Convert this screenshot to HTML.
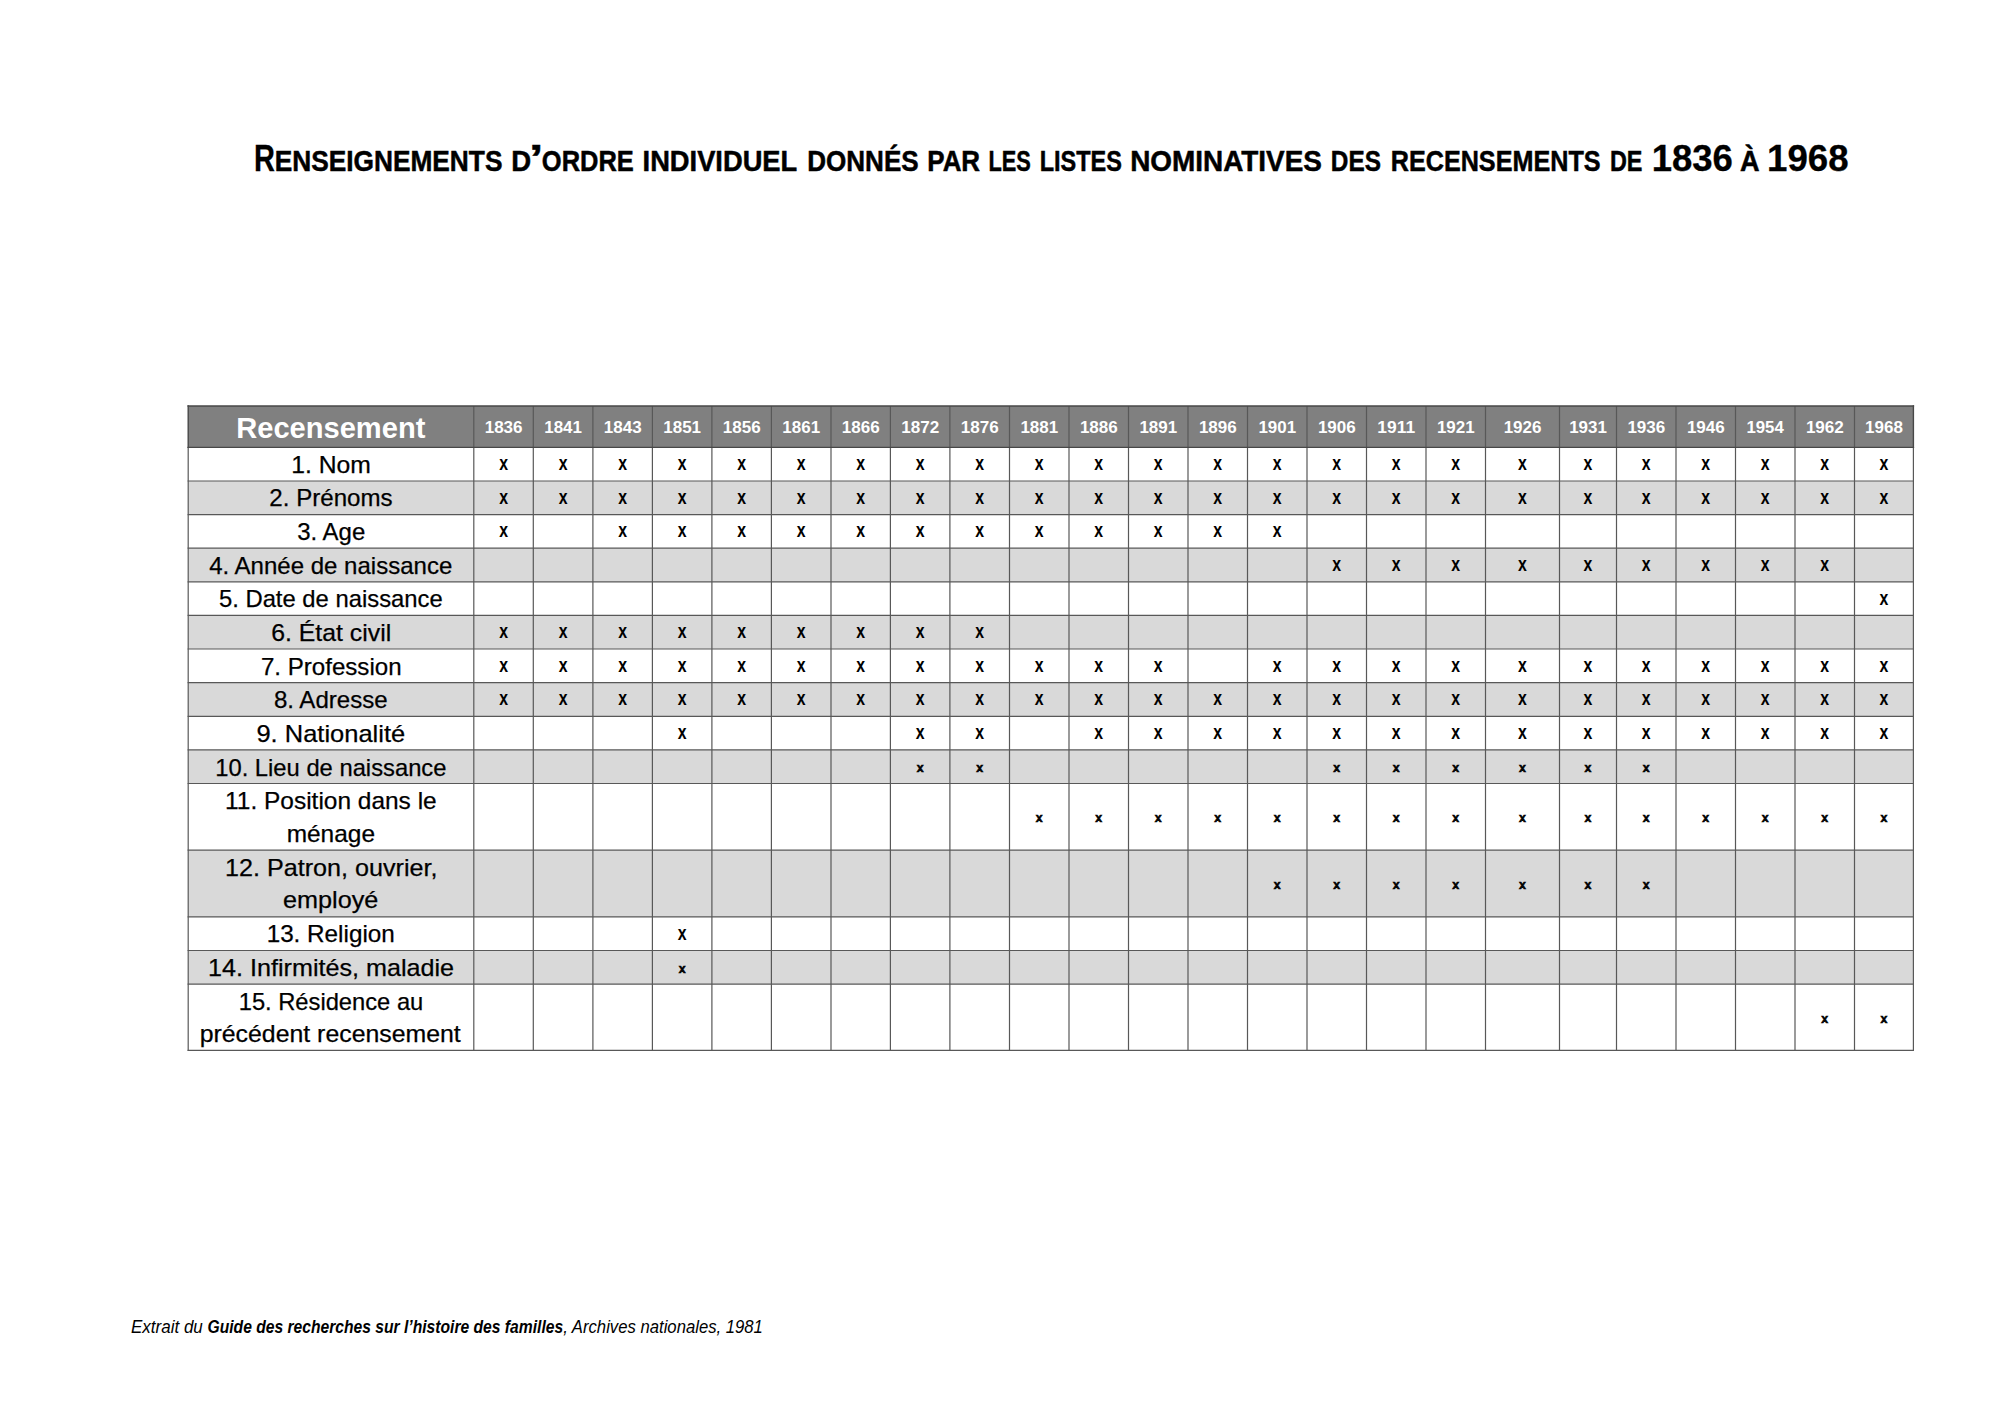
<!DOCTYPE html>
<html lang="fr">
<head>
<meta charset="utf-8">
<title>Renseignements d’ordre individuel donnés par les listes nominatives des recensements de 1836 à 1968</title>
<style>
html,body{margin:0;padding:0;background:#fff;}
body{width:2000px;height:1414px;overflow:hidden;}
svg{display:block;position:absolute;left:0;top:0;}
text{font-family:"Liberation Sans",sans-serif;fill:#000;}
.b{font-weight:bold;}
.i{font-style:italic;}
.w text{fill:#fff;}
</style>
</head>
<body>
<svg width="2000" height="1414" viewBox="0 0 2000 1414">
<rect x="0" y="0" width="2000" height="1414" fill="#fff"/>
<g id="bg">
<rect x="188.2" y="406.0" width="1725.2" height="41.4" fill="#808080"/>
<rect x="188.2" y="481.0" width="1725.2" height="33.6" fill="#d9d9d9"/>
<rect x="188.2" y="548.2" width="1725.2" height="33.6" fill="#d9d9d9"/>
<rect x="188.2" y="615.4" width="1725.2" height="33.6" fill="#d9d9d9"/>
<rect x="188.2" y="682.6" width="1725.2" height="33.7" fill="#d9d9d9"/>
<rect x="188.2" y="749.9" width="1725.2" height="33.6" fill="#d9d9d9"/>
<rect x="188.2" y="850.2" width="1725.2" height="66.7" fill="#d9d9d9"/>
<rect x="188.2" y="950.5" width="1725.2" height="33.6" fill="#d9d9d9"/>
</g>
<g id="grid" fill="none">
<g stroke="#585858" stroke-width="1.2">
<line x1="188.2" y1="447.4" x2="188.2" y2="1051.0"/>
<line x1="473.8" y1="447.4" x2="473.8" y2="1051.0"/>
<line x1="533.3" y1="447.4" x2="533.3" y2="1051.0"/>
<line x1="592.9" y1="447.4" x2="592.9" y2="1051.0"/>
<line x1="652.4" y1="447.4" x2="652.4" y2="1051.0"/>
<line x1="711.9" y1="447.4" x2="711.9" y2="1051.0"/>
<line x1="771.4" y1="447.4" x2="771.4" y2="1051.0"/>
<line x1="831.0" y1="447.4" x2="831.0" y2="1051.0"/>
<line x1="890.4" y1="447.4" x2="890.4" y2="1051.0"/>
<line x1="949.9" y1="447.4" x2="949.9" y2="1051.0"/>
<line x1="1009.5" y1="447.4" x2="1009.5" y2="1051.0"/>
<line x1="1069.0" y1="447.4" x2="1069.0" y2="1051.0"/>
<line x1="1128.5" y1="447.4" x2="1128.5" y2="1051.0"/>
<line x1="1188.0" y1="447.4" x2="1188.0" y2="1051.0"/>
<line x1="1247.5" y1="447.4" x2="1247.5" y2="1051.0"/>
<line x1="1307.0" y1="447.4" x2="1307.0" y2="1051.0"/>
<line x1="1366.5" y1="447.4" x2="1366.5" y2="1051.0"/>
<line x1="1426.0" y1="447.4" x2="1426.0" y2="1051.0"/>
<line x1="1485.5" y1="447.4" x2="1485.5" y2="1051.0"/>
<line x1="1559.5" y1="447.4" x2="1559.5" y2="1051.0"/>
<line x1="1616.5" y1="447.4" x2="1616.5" y2="1051.0"/>
<line x1="1676.0" y1="447.4" x2="1676.0" y2="1051.0"/>
<line x1="1735.5" y1="447.4" x2="1735.5" y2="1051.0"/>
<line x1="1795.0" y1="447.4" x2="1795.0" y2="1051.0"/>
<line x1="1854.5" y1="447.4" x2="1854.5" y2="1051.0"/>
<line x1="1913.4" y1="447.4" x2="1913.4" y2="1051.0"/>
<line x1="187.6" y1="481.0" x2="1914.0" y2="481.0"/>
<line x1="187.6" y1="514.6" x2="1914.0" y2="514.6"/>
<line x1="187.6" y1="548.2" x2="1914.0" y2="548.2"/>
<line x1="187.6" y1="581.8" x2="1914.0" y2="581.8"/>
<line x1="187.6" y1="615.4" x2="1914.0" y2="615.4"/>
<line x1="187.6" y1="649.0" x2="1914.0" y2="649.0"/>
<line x1="187.6" y1="682.6" x2="1914.0" y2="682.6"/>
<line x1="187.6" y1="716.3" x2="1914.0" y2="716.3"/>
<line x1="187.6" y1="749.9" x2="1914.0" y2="749.9"/>
<line x1="187.6" y1="783.5" x2="1914.0" y2="783.5"/>
<line x1="187.6" y1="850.2" x2="1914.0" y2="850.2"/>
<line x1="187.6" y1="916.9" x2="1914.0" y2="916.9"/>
<line x1="187.6" y1="950.5" x2="1914.0" y2="950.5"/>
<line x1="187.6" y1="984.1" x2="1914.0" y2="984.1"/>
<line x1="187.6" y1="1050.4" x2="1914.0" y2="1050.4"/>
</g>
<g stroke="#585858" stroke-width="1.2">
<line x1="473.8" y1="406.0" x2="473.8" y2="447.4"/>
<line x1="533.3" y1="406.0" x2="533.3" y2="447.4"/>
<line x1="592.9" y1="406.0" x2="592.9" y2="447.4"/>
<line x1="652.4" y1="406.0" x2="652.4" y2="447.4"/>
<line x1="711.9" y1="406.0" x2="711.9" y2="447.4"/>
<line x1="771.4" y1="406.0" x2="771.4" y2="447.4"/>
<line x1="831.0" y1="406.0" x2="831.0" y2="447.4"/>
<line x1="890.4" y1="406.0" x2="890.4" y2="447.4"/>
<line x1="949.9" y1="406.0" x2="949.9" y2="447.4"/>
<line x1="1009.5" y1="406.0" x2="1009.5" y2="447.4"/>
<line x1="1069.0" y1="406.0" x2="1069.0" y2="447.4"/>
<line x1="1128.5" y1="406.0" x2="1128.5" y2="447.4"/>
<line x1="1188.0" y1="406.0" x2="1188.0" y2="447.4"/>
<line x1="1247.5" y1="406.0" x2="1247.5" y2="447.4"/>
<line x1="1307.0" y1="406.0" x2="1307.0" y2="447.4"/>
<line x1="1366.5" y1="406.0" x2="1366.5" y2="447.4"/>
<line x1="1426.0" y1="406.0" x2="1426.0" y2="447.4"/>
<line x1="1485.5" y1="406.0" x2="1485.5" y2="447.4"/>
<line x1="1559.5" y1="406.0" x2="1559.5" y2="447.4"/>
<line x1="1616.5" y1="406.0" x2="1616.5" y2="447.4"/>
<line x1="1676.0" y1="406.0" x2="1676.0" y2="447.4"/>
<line x1="1735.5" y1="406.0" x2="1735.5" y2="447.4"/>
<line x1="1795.0" y1="406.0" x2="1795.0" y2="447.4"/>
<line x1="1854.5" y1="406.0" x2="1854.5" y2="447.4"/>
</g>
<g stroke="#474747" stroke-width="1.4">
<line x1="188.2" y1="405.3" x2="188.2" y2="448.1"/>
<line x1="1913.4" y1="405.3" x2="1913.4" y2="448.1"/>
<line x1="187.5" y1="406.0" x2="1914.1" y2="406.0"/>
<line x1="187.5" y1="447.4" x2="1914.1" y2="447.4"/>
</g>
</g>
<text id="title" class="b" y="171.20"><tspan x="254.06" font-size="36.3" textLength="20.93" lengthAdjust="spacingAndGlyphs" id="t0" stroke="#000" stroke-width="0.3">R</tspan><tspan x="274.74" font-size="28.9" textLength="227.68" lengthAdjust="spacingAndGlyphs" id="t1" stroke="#000" stroke-width="0.5">ENSEIGNEMENTS</tspan> <tspan x="511.16" font-size="28.9" textLength="19.90" lengthAdjust="spacingAndGlyphs" id="t2" stroke="#000" stroke-width="0.5">D</tspan><tspan x="528.78" font-size="36.3" textLength="14.85" lengthAdjust="spacingAndGlyphs" id="t3" stroke="#000" stroke-width="0.3">’</tspan><tspan x="541.86" font-size="28.9" textLength="91.94" lengthAdjust="spacingAndGlyphs" id="t4" stroke="#000" stroke-width="0.5">ORDRE</tspan> <tspan x="642.57" font-size="28.9" textLength="154.67" lengthAdjust="spacingAndGlyphs" id="t5" stroke="#000" stroke-width="0.5">INDIVIDUEL</tspan> <tspan x="807.26" font-size="28.9" textLength="111.36" lengthAdjust="spacingAndGlyphs" id="t6" stroke="#000" stroke-width="0.5">DONNÉS</tspan> <tspan x="927.26" font-size="28.9" textLength="52.87" lengthAdjust="spacingAndGlyphs" id="t7" stroke="#000" stroke-width="0.5">PAR</tspan> <tspan x="988.54" font-size="28.9" textLength="42.31" lengthAdjust="spacingAndGlyphs" id="t8" stroke="#000" stroke-width="0.5">LES</tspan> <tspan x="1039.73" font-size="28.9" textLength="82.19" lengthAdjust="spacingAndGlyphs" id="t9" stroke="#000" stroke-width="0.5">LISTES</tspan> <tspan x="1130.13" font-size="28.9" textLength="191.76" lengthAdjust="spacingAndGlyphs" id="t10" stroke="#000" stroke-width="0.5">NOMINATIVES</tspan> <tspan x="1330.87" font-size="28.9" textLength="50.08" lengthAdjust="spacingAndGlyphs" id="t11" stroke="#000" stroke-width="0.5">DES</tspan> <tspan x="1390.72" font-size="28.9" textLength="209.87" lengthAdjust="spacingAndGlyphs" id="t12" stroke="#000" stroke-width="0.5">RECENSEMENTS</tspan> <tspan x="1609.94" font-size="28.9" textLength="32.48" lengthAdjust="spacingAndGlyphs" id="t13" stroke="#000" stroke-width="0.5">DE</tspan> <tspan x="1651.70" font-size="36.3" textLength="81.22" lengthAdjust="spacingAndGlyphs" id="t14" stroke="#000" stroke-width="0.3">1836</tspan> <tspan x="1740.02" font-size="28.9" textLength="19.59" lengthAdjust="spacingAndGlyphs" id="t15" stroke="#000" stroke-width="0.5">À</tspan> <tspan x="1767.09" font-size="36.3" textLength="81.54" lengthAdjust="spacingAndGlyphs" id="t16" stroke="#000" stroke-width="0.3">1968</tspan></text>
<g id="head" class="b w">
<text x="236.25" y="437.80" font-size="30.0" textLength="189.10" lengthAdjust="spacingAndGlyphs" id="rec">Recensement</text>
<text x="484.68" y="433.00" font-size="17" textLength="37.89" lengthAdjust="spacingAndGlyphs" id="y0">1836</text>
<text x="544.23" y="433.00" font-size="17" textLength="37.74" lengthAdjust="spacingAndGlyphs" id="y1">1841</text>
<text x="603.78" y="433.00" font-size="17" textLength="37.89" lengthAdjust="spacingAndGlyphs" id="y2">1843</text>
<text x="663.28" y="433.00" font-size="17" textLength="37.74" lengthAdjust="spacingAndGlyphs" id="y3">1851</text>
<text x="722.78" y="433.00" font-size="17" textLength="37.89" lengthAdjust="spacingAndGlyphs" id="y4">1856</text>
<text x="782.33" y="433.00" font-size="17" textLength="37.74" lengthAdjust="spacingAndGlyphs" id="y5">1861</text>
<text x="841.83" y="433.00" font-size="17" textLength="37.89" lengthAdjust="spacingAndGlyphs" id="y6">1866</text>
<text x="901.28" y="433.00" font-size="17" textLength="37.96" lengthAdjust="spacingAndGlyphs" id="y7">1872</text>
<text x="960.83" y="433.00" font-size="17" textLength="37.89" lengthAdjust="spacingAndGlyphs" id="y8">1876</text>
<text x="1020.38" y="433.00" font-size="17" textLength="37.74" lengthAdjust="spacingAndGlyphs" id="y9">1881</text>
<text x="1079.88" y="433.00" font-size="17" textLength="37.89" lengthAdjust="spacingAndGlyphs" id="y10">1886</text>
<text x="1139.38" y="433.00" font-size="17" textLength="37.74" lengthAdjust="spacingAndGlyphs" id="y11">1891</text>
<text x="1198.88" y="433.00" font-size="17" textLength="37.89" lengthAdjust="spacingAndGlyphs" id="y12">1896</text>
<text x="1258.38" y="433.00" font-size="17" textLength="37.74" lengthAdjust="spacingAndGlyphs" id="y13">1901</text>
<text x="1317.88" y="433.00" font-size="17" textLength="37.89" lengthAdjust="spacingAndGlyphs" id="y14">1906</text>
<text x="1377.35" y="433.00" font-size="17" textLength="37.78" lengthAdjust="spacingAndGlyphs" id="y15">1911</text>
<text x="1436.88" y="433.00" font-size="17" textLength="37.74" lengthAdjust="spacingAndGlyphs" id="y16">1921</text>
<text x="1503.63" y="433.00" font-size="17" textLength="37.89" lengthAdjust="spacingAndGlyphs" id="y17">1926</text>
<text x="1569.13" y="433.00" font-size="17" textLength="37.74" lengthAdjust="spacingAndGlyphs" id="y18">1931</text>
<text x="1627.38" y="433.00" font-size="17" textLength="37.89" lengthAdjust="spacingAndGlyphs" id="y19">1936</text>
<text x="1686.88" y="433.00" font-size="17" textLength="37.89" lengthAdjust="spacingAndGlyphs" id="y20">1946</text>
<text x="1746.39" y="433.00" font-size="17" textLength="37.35" lengthAdjust="spacingAndGlyphs" id="y21">1954</text>
<text x="1805.88" y="433.00" font-size="17" textLength="37.96" lengthAdjust="spacingAndGlyphs" id="y22">1962</text>
<text x="1865.08" y="433.00" font-size="17" textLength="37.79" lengthAdjust="spacingAndGlyphs" id="y23">1968</text>
</g>
<g id="labels">
<text x="291.22" y="472.70" font-size="24" textLength="79.61" lengthAdjust="spacingAndGlyphs" id="l0_0" stroke="#000" stroke-width="0.25">1. Nom</text>
<text x="269.39" y="506.40" font-size="24" textLength="123.18" lengthAdjust="spacingAndGlyphs" id="l1_0" stroke="#000" stroke-width="0.25">2. Prénoms</text>
<text x="297.29" y="540.00" font-size="24" textLength="67.98" lengthAdjust="spacingAndGlyphs" id="l2_0" stroke="#000" stroke-width="0.25">3. Age</text>
<text x="209.20" y="573.70" font-size="24" textLength="243.07" lengthAdjust="spacingAndGlyphs" id="l3_0" stroke="#000" stroke-width="0.25">4. Année de naissance</text>
<text x="218.95" y="607.30" font-size="24" textLength="223.81" lengthAdjust="spacingAndGlyphs" id="l4_0" stroke="#000" stroke-width="0.25">5. Date de naissance</text>
<text x="271.24" y="640.90" font-size="24" textLength="119.92" lengthAdjust="spacingAndGlyphs" id="l5_0" stroke="#000" stroke-width="0.25">6. État civil</text>
<text x="260.96" y="674.50" font-size="24" textLength="140.60" lengthAdjust="spacingAndGlyphs" id="l6_0" stroke="#000" stroke-width="0.25">7. Profession</text>
<text x="273.95" y="708.20" font-size="24" textLength="113.72" lengthAdjust="spacingAndGlyphs" id="l7_0" stroke="#000" stroke-width="0.25">8. Adresse</text>
<text x="256.41" y="741.90" font-size="24" textLength="148.73" lengthAdjust="spacingAndGlyphs" id="l8_0" stroke="#000" stroke-width="0.25">9. Nationalité</text>
<text x="215.19" y="775.60" font-size="24" textLength="231.27" lengthAdjust="spacingAndGlyphs" id="l9_0" stroke="#000" stroke-width="0.25">10. Lieu de naissance</text>
<text><tspan x="225.04" y="809.30" font-size="24" textLength="211.65" lengthAdjust="spacingAndGlyphs" id="l10_0" stroke="#000" stroke-width="0.25">11. Position dans le</tspan> <tspan x="286.68" y="841.80" font-size="24" textLength="88.31" lengthAdjust="spacingAndGlyphs" id="l10_1" stroke="#000" stroke-width="0.25">ménage</tspan></text>
<text><tspan x="224.98" y="875.60" font-size="24" textLength="212.47" lengthAdjust="spacingAndGlyphs" id="l11_0" stroke="#000" stroke-width="0.25">12. Patron, ouvrier,</tspan> <tspan x="283.03" y="907.80" font-size="24" textLength="95.29" lengthAdjust="spacingAndGlyphs" id="l11_1" stroke="#000" stroke-width="0.25">employé</tspan></text>
<text x="266.65" y="942.20" font-size="24" textLength="128.12" lengthAdjust="spacingAndGlyphs" id="l12_0" stroke="#000" stroke-width="0.25">13. Religion</text>
<text x="208.08" y="976.10" font-size="24" textLength="246.03" lengthAdjust="spacingAndGlyphs" id="l13_0" stroke="#000" stroke-width="0.25">14. Infirmités, maladie</text>
<text><tspan x="238.69" y="1009.50" font-size="24" textLength="184.58" lengthAdjust="spacingAndGlyphs" id="l14_0" stroke="#000" stroke-width="0.25">15. Résidence au</tspan> <tspan x="199.70" y="1042.40" font-size="24" textLength="261.08" lengthAdjust="spacingAndGlyphs" id="l14_1" stroke="#000" stroke-width="0.25">précédent recensement</tspan></text>
</g>
<g id="marks" class="b">
<text x="499.14" y="470.15" font-size="19.6" textLength="8.82" lengthAdjust="spacingAndGlyphs" id="xb">x</text>
<text x="558.69" y="470.15" font-size="19.6" textLength="8.82" lengthAdjust="spacingAndGlyphs">x</text>
<text x="618.24" y="470.15" font-size="19.6" textLength="8.82" lengthAdjust="spacingAndGlyphs">x</text>
<text x="677.74" y="470.15" font-size="19.6" textLength="8.82" lengthAdjust="spacingAndGlyphs">x</text>
<text x="737.24" y="470.15" font-size="19.6" textLength="8.82" lengthAdjust="spacingAndGlyphs">x</text>
<text x="796.79" y="470.15" font-size="19.6" textLength="8.82" lengthAdjust="spacingAndGlyphs">x</text>
<text x="856.29" y="470.15" font-size="19.6" textLength="8.82" lengthAdjust="spacingAndGlyphs">x</text>
<text x="915.74" y="470.15" font-size="19.6" textLength="8.82" lengthAdjust="spacingAndGlyphs">x</text>
<text x="975.29" y="470.15" font-size="19.6" textLength="8.82" lengthAdjust="spacingAndGlyphs">x</text>
<text x="1034.84" y="470.15" font-size="19.6" textLength="8.82" lengthAdjust="spacingAndGlyphs">x</text>
<text x="1094.34" y="470.15" font-size="19.6" textLength="8.82" lengthAdjust="spacingAndGlyphs">x</text>
<text x="1153.84" y="470.15" font-size="19.6" textLength="8.82" lengthAdjust="spacingAndGlyphs">x</text>
<text x="1213.34" y="470.15" font-size="19.6" textLength="8.82" lengthAdjust="spacingAndGlyphs">x</text>
<text x="1272.84" y="470.15" font-size="19.6" textLength="8.82" lengthAdjust="spacingAndGlyphs">x</text>
<text x="1332.34" y="470.15" font-size="19.6" textLength="8.82" lengthAdjust="spacingAndGlyphs">x</text>
<text x="1391.84" y="470.15" font-size="19.6" textLength="8.82" lengthAdjust="spacingAndGlyphs">x</text>
<text x="1451.34" y="470.15" font-size="19.6" textLength="8.82" lengthAdjust="spacingAndGlyphs">x</text>
<text x="1518.09" y="470.15" font-size="19.6" textLength="8.82" lengthAdjust="spacingAndGlyphs">x</text>
<text x="1583.59" y="470.15" font-size="19.6" textLength="8.82" lengthAdjust="spacingAndGlyphs">x</text>
<text x="1641.84" y="470.15" font-size="19.6" textLength="8.82" lengthAdjust="spacingAndGlyphs">x</text>
<text x="1701.34" y="470.15" font-size="19.6" textLength="8.82" lengthAdjust="spacingAndGlyphs">x</text>
<text x="1760.84" y="470.15" font-size="19.6" textLength="8.82" lengthAdjust="spacingAndGlyphs">x</text>
<text x="1820.34" y="470.15" font-size="19.6" textLength="8.82" lengthAdjust="spacingAndGlyphs">x</text>
<text x="1879.54" y="470.15" font-size="19.6" textLength="8.82" lengthAdjust="spacingAndGlyphs">x</text>
<text x="499.14" y="503.75" font-size="19.6" textLength="8.82" lengthAdjust="spacingAndGlyphs">x</text>
<text x="558.69" y="503.75" font-size="19.6" textLength="8.82" lengthAdjust="spacingAndGlyphs">x</text>
<text x="618.24" y="503.75" font-size="19.6" textLength="8.82" lengthAdjust="spacingAndGlyphs">x</text>
<text x="677.74" y="503.75" font-size="19.6" textLength="8.82" lengthAdjust="spacingAndGlyphs">x</text>
<text x="737.24" y="503.75" font-size="19.6" textLength="8.82" lengthAdjust="spacingAndGlyphs">x</text>
<text x="796.79" y="503.75" font-size="19.6" textLength="8.82" lengthAdjust="spacingAndGlyphs">x</text>
<text x="856.29" y="503.75" font-size="19.6" textLength="8.82" lengthAdjust="spacingAndGlyphs">x</text>
<text x="915.74" y="503.75" font-size="19.6" textLength="8.82" lengthAdjust="spacingAndGlyphs">x</text>
<text x="975.29" y="503.75" font-size="19.6" textLength="8.82" lengthAdjust="spacingAndGlyphs">x</text>
<text x="1034.84" y="503.75" font-size="19.6" textLength="8.82" lengthAdjust="spacingAndGlyphs">x</text>
<text x="1094.34" y="503.75" font-size="19.6" textLength="8.82" lengthAdjust="spacingAndGlyphs">x</text>
<text x="1153.84" y="503.75" font-size="19.6" textLength="8.82" lengthAdjust="spacingAndGlyphs">x</text>
<text x="1213.34" y="503.75" font-size="19.6" textLength="8.82" lengthAdjust="spacingAndGlyphs">x</text>
<text x="1272.84" y="503.75" font-size="19.6" textLength="8.82" lengthAdjust="spacingAndGlyphs">x</text>
<text x="1332.34" y="503.75" font-size="19.6" textLength="8.82" lengthAdjust="spacingAndGlyphs">x</text>
<text x="1391.84" y="503.75" font-size="19.6" textLength="8.82" lengthAdjust="spacingAndGlyphs">x</text>
<text x="1451.34" y="503.75" font-size="19.6" textLength="8.82" lengthAdjust="spacingAndGlyphs">x</text>
<text x="1518.09" y="503.75" font-size="19.6" textLength="8.82" lengthAdjust="spacingAndGlyphs">x</text>
<text x="1583.59" y="503.75" font-size="19.6" textLength="8.82" lengthAdjust="spacingAndGlyphs">x</text>
<text x="1641.84" y="503.75" font-size="19.6" textLength="8.82" lengthAdjust="spacingAndGlyphs">x</text>
<text x="1701.34" y="503.75" font-size="19.6" textLength="8.82" lengthAdjust="spacingAndGlyphs">x</text>
<text x="1760.84" y="503.75" font-size="19.6" textLength="8.82" lengthAdjust="spacingAndGlyphs">x</text>
<text x="1820.34" y="503.75" font-size="19.6" textLength="8.82" lengthAdjust="spacingAndGlyphs">x</text>
<text x="1879.54" y="503.75" font-size="19.6" textLength="8.82" lengthAdjust="spacingAndGlyphs">x</text>
<text x="499.14" y="537.35" font-size="19.6" textLength="8.82" lengthAdjust="spacingAndGlyphs">x</text>
<text x="618.24" y="537.35" font-size="19.6" textLength="8.82" lengthAdjust="spacingAndGlyphs">x</text>
<text x="677.74" y="537.35" font-size="19.6" textLength="8.82" lengthAdjust="spacingAndGlyphs">x</text>
<text x="737.24" y="537.35" font-size="19.6" textLength="8.82" lengthAdjust="spacingAndGlyphs">x</text>
<text x="796.79" y="537.35" font-size="19.6" textLength="8.82" lengthAdjust="spacingAndGlyphs">x</text>
<text x="856.29" y="537.35" font-size="19.6" textLength="8.82" lengthAdjust="spacingAndGlyphs">x</text>
<text x="915.74" y="537.35" font-size="19.6" textLength="8.82" lengthAdjust="spacingAndGlyphs">x</text>
<text x="975.29" y="537.35" font-size="19.6" textLength="8.82" lengthAdjust="spacingAndGlyphs">x</text>
<text x="1034.84" y="537.35" font-size="19.6" textLength="8.82" lengthAdjust="spacingAndGlyphs">x</text>
<text x="1094.34" y="537.35" font-size="19.6" textLength="8.82" lengthAdjust="spacingAndGlyphs">x</text>
<text x="1153.84" y="537.35" font-size="19.6" textLength="8.82" lengthAdjust="spacingAndGlyphs">x</text>
<text x="1213.34" y="537.35" font-size="19.6" textLength="8.82" lengthAdjust="spacingAndGlyphs">x</text>
<text x="1272.84" y="537.35" font-size="19.6" textLength="8.82" lengthAdjust="spacingAndGlyphs">x</text>
<text x="1332.34" y="570.95" font-size="19.6" textLength="8.82" lengthAdjust="spacingAndGlyphs">x</text>
<text x="1391.84" y="570.95" font-size="19.6" textLength="8.82" lengthAdjust="spacingAndGlyphs">x</text>
<text x="1451.34" y="570.95" font-size="19.6" textLength="8.82" lengthAdjust="spacingAndGlyphs">x</text>
<text x="1518.09" y="570.95" font-size="19.6" textLength="8.82" lengthAdjust="spacingAndGlyphs">x</text>
<text x="1583.59" y="570.95" font-size="19.6" textLength="8.82" lengthAdjust="spacingAndGlyphs">x</text>
<text x="1641.84" y="570.95" font-size="19.6" textLength="8.82" lengthAdjust="spacingAndGlyphs">x</text>
<text x="1701.34" y="570.95" font-size="19.6" textLength="8.82" lengthAdjust="spacingAndGlyphs">x</text>
<text x="1760.84" y="570.95" font-size="19.6" textLength="8.82" lengthAdjust="spacingAndGlyphs">x</text>
<text x="1820.34" y="570.95" font-size="19.6" textLength="8.82" lengthAdjust="spacingAndGlyphs">x</text>
<text x="1879.54" y="604.55" font-size="19.6" textLength="8.82" lengthAdjust="spacingAndGlyphs">x</text>
<text x="499.14" y="638.15" font-size="19.6" textLength="8.82" lengthAdjust="spacingAndGlyphs">x</text>
<text x="558.69" y="638.15" font-size="19.6" textLength="8.82" lengthAdjust="spacingAndGlyphs">x</text>
<text x="618.24" y="638.15" font-size="19.6" textLength="8.82" lengthAdjust="spacingAndGlyphs">x</text>
<text x="677.74" y="638.15" font-size="19.6" textLength="8.82" lengthAdjust="spacingAndGlyphs">x</text>
<text x="737.24" y="638.15" font-size="19.6" textLength="8.82" lengthAdjust="spacingAndGlyphs">x</text>
<text x="796.79" y="638.15" font-size="19.6" textLength="8.82" lengthAdjust="spacingAndGlyphs">x</text>
<text x="856.29" y="638.15" font-size="19.6" textLength="8.82" lengthAdjust="spacingAndGlyphs">x</text>
<text x="915.74" y="638.15" font-size="19.6" textLength="8.82" lengthAdjust="spacingAndGlyphs">x</text>
<text x="975.29" y="638.15" font-size="19.6" textLength="8.82" lengthAdjust="spacingAndGlyphs">x</text>
<text x="499.14" y="671.75" font-size="19.6" textLength="8.82" lengthAdjust="spacingAndGlyphs">x</text>
<text x="558.69" y="671.75" font-size="19.6" textLength="8.82" lengthAdjust="spacingAndGlyphs">x</text>
<text x="618.24" y="671.75" font-size="19.6" textLength="8.82" lengthAdjust="spacingAndGlyphs">x</text>
<text x="677.74" y="671.75" font-size="19.6" textLength="8.82" lengthAdjust="spacingAndGlyphs">x</text>
<text x="737.24" y="671.75" font-size="19.6" textLength="8.82" lengthAdjust="spacingAndGlyphs">x</text>
<text x="796.79" y="671.75" font-size="19.6" textLength="8.82" lengthAdjust="spacingAndGlyphs">x</text>
<text x="856.29" y="671.75" font-size="19.6" textLength="8.82" lengthAdjust="spacingAndGlyphs">x</text>
<text x="915.74" y="671.75" font-size="19.6" textLength="8.82" lengthAdjust="spacingAndGlyphs">x</text>
<text x="975.29" y="671.75" font-size="19.6" textLength="8.82" lengthAdjust="spacingAndGlyphs">x</text>
<text x="1034.84" y="671.75" font-size="19.6" textLength="8.82" lengthAdjust="spacingAndGlyphs">x</text>
<text x="1094.34" y="671.75" font-size="19.6" textLength="8.82" lengthAdjust="spacingAndGlyphs">x</text>
<text x="1153.84" y="671.75" font-size="19.6" textLength="8.82" lengthAdjust="spacingAndGlyphs">x</text>
<text x="1272.84" y="671.75" font-size="19.6" textLength="8.82" lengthAdjust="spacingAndGlyphs">x</text>
<text x="1332.34" y="671.75" font-size="19.6" textLength="8.82" lengthAdjust="spacingAndGlyphs">x</text>
<text x="1391.84" y="671.75" font-size="19.6" textLength="8.82" lengthAdjust="spacingAndGlyphs">x</text>
<text x="1451.34" y="671.75" font-size="19.6" textLength="8.82" lengthAdjust="spacingAndGlyphs">x</text>
<text x="1518.09" y="671.75" font-size="19.6" textLength="8.82" lengthAdjust="spacingAndGlyphs">x</text>
<text x="1583.59" y="671.75" font-size="19.6" textLength="8.82" lengthAdjust="spacingAndGlyphs">x</text>
<text x="1641.84" y="671.75" font-size="19.6" textLength="8.82" lengthAdjust="spacingAndGlyphs">x</text>
<text x="1701.34" y="671.75" font-size="19.6" textLength="8.82" lengthAdjust="spacingAndGlyphs">x</text>
<text x="1760.84" y="671.75" font-size="19.6" textLength="8.82" lengthAdjust="spacingAndGlyphs">x</text>
<text x="1820.34" y="671.75" font-size="19.6" textLength="8.82" lengthAdjust="spacingAndGlyphs">x</text>
<text x="1879.54" y="671.75" font-size="19.6" textLength="8.82" lengthAdjust="spacingAndGlyphs">x</text>
<text x="499.14" y="705.35" font-size="19.6" textLength="8.82" lengthAdjust="spacingAndGlyphs">x</text>
<text x="558.69" y="705.35" font-size="19.6" textLength="8.82" lengthAdjust="spacingAndGlyphs">x</text>
<text x="618.24" y="705.35" font-size="19.6" textLength="8.82" lengthAdjust="spacingAndGlyphs">x</text>
<text x="677.74" y="705.35" font-size="19.6" textLength="8.82" lengthAdjust="spacingAndGlyphs">x</text>
<text x="737.24" y="705.35" font-size="19.6" textLength="8.82" lengthAdjust="spacingAndGlyphs">x</text>
<text x="796.79" y="705.35" font-size="19.6" textLength="8.82" lengthAdjust="spacingAndGlyphs">x</text>
<text x="856.29" y="705.35" font-size="19.6" textLength="8.82" lengthAdjust="spacingAndGlyphs">x</text>
<text x="915.74" y="705.35" font-size="19.6" textLength="8.82" lengthAdjust="spacingAndGlyphs">x</text>
<text x="975.29" y="705.35" font-size="19.6" textLength="8.82" lengthAdjust="spacingAndGlyphs">x</text>
<text x="1034.84" y="705.35" font-size="19.6" textLength="8.82" lengthAdjust="spacingAndGlyphs">x</text>
<text x="1094.34" y="705.35" font-size="19.6" textLength="8.82" lengthAdjust="spacingAndGlyphs">x</text>
<text x="1153.84" y="705.35" font-size="19.6" textLength="8.82" lengthAdjust="spacingAndGlyphs">x</text>
<text x="1213.34" y="705.35" font-size="19.6" textLength="8.82" lengthAdjust="spacingAndGlyphs">x</text>
<text x="1272.84" y="705.35" font-size="19.6" textLength="8.82" lengthAdjust="spacingAndGlyphs">x</text>
<text x="1332.34" y="705.35" font-size="19.6" textLength="8.82" lengthAdjust="spacingAndGlyphs">x</text>
<text x="1391.84" y="705.35" font-size="19.6" textLength="8.82" lengthAdjust="spacingAndGlyphs">x</text>
<text x="1451.34" y="705.35" font-size="19.6" textLength="8.82" lengthAdjust="spacingAndGlyphs">x</text>
<text x="1518.09" y="705.35" font-size="19.6" textLength="8.82" lengthAdjust="spacingAndGlyphs">x</text>
<text x="1583.59" y="705.35" font-size="19.6" textLength="8.82" lengthAdjust="spacingAndGlyphs">x</text>
<text x="1641.84" y="705.35" font-size="19.6" textLength="8.82" lengthAdjust="spacingAndGlyphs">x</text>
<text x="1701.34" y="705.35" font-size="19.6" textLength="8.82" lengthAdjust="spacingAndGlyphs">x</text>
<text x="1760.84" y="705.35" font-size="19.6" textLength="8.82" lengthAdjust="spacingAndGlyphs">x</text>
<text x="1820.34" y="705.35" font-size="19.6" textLength="8.82" lengthAdjust="spacingAndGlyphs">x</text>
<text x="1879.54" y="705.35" font-size="19.6" textLength="8.82" lengthAdjust="spacingAndGlyphs">x</text>
<text x="677.74" y="739.05" font-size="19.6" textLength="8.82" lengthAdjust="spacingAndGlyphs">x</text>
<text x="915.74" y="739.05" font-size="19.6" textLength="8.82" lengthAdjust="spacingAndGlyphs">x</text>
<text x="975.29" y="739.05" font-size="19.6" textLength="8.82" lengthAdjust="spacingAndGlyphs">x</text>
<text x="1094.34" y="739.05" font-size="19.6" textLength="8.82" lengthAdjust="spacingAndGlyphs">x</text>
<text x="1153.84" y="739.05" font-size="19.6" textLength="8.82" lengthAdjust="spacingAndGlyphs">x</text>
<text x="1213.34" y="739.05" font-size="19.6" textLength="8.82" lengthAdjust="spacingAndGlyphs">x</text>
<text x="1272.84" y="739.05" font-size="19.6" textLength="8.82" lengthAdjust="spacingAndGlyphs">x</text>
<text x="1332.34" y="739.05" font-size="19.6" textLength="8.82" lengthAdjust="spacingAndGlyphs">x</text>
<text x="1391.84" y="739.05" font-size="19.6" textLength="8.82" lengthAdjust="spacingAndGlyphs">x</text>
<text x="1451.34" y="739.05" font-size="19.6" textLength="8.82" lengthAdjust="spacingAndGlyphs">x</text>
<text x="1518.09" y="739.05" font-size="19.6" textLength="8.82" lengthAdjust="spacingAndGlyphs">x</text>
<text x="1583.59" y="739.05" font-size="19.6" textLength="8.82" lengthAdjust="spacingAndGlyphs">x</text>
<text x="1641.84" y="739.05" font-size="19.6" textLength="8.82" lengthAdjust="spacingAndGlyphs">x</text>
<text x="1701.34" y="739.05" font-size="19.6" textLength="8.82" lengthAdjust="spacingAndGlyphs">x</text>
<text x="1760.84" y="739.05" font-size="19.6" textLength="8.82" lengthAdjust="spacingAndGlyphs">x</text>
<text x="1820.34" y="739.05" font-size="19.6" textLength="8.82" lengthAdjust="spacingAndGlyphs">x</text>
<text x="1879.54" y="739.05" font-size="19.6" textLength="8.82" lengthAdjust="spacingAndGlyphs">x</text>
<text x="916.72" y="772.00" font-size="13.4" textLength="6.88" lengthAdjust="spacingAndGlyphs" id="xs" stroke="#000" stroke-width="0.6">x</text>
<text x="976.27" y="772.00" font-size="13.4" textLength="6.88" lengthAdjust="spacingAndGlyphs" stroke="#000" stroke-width="0.6">x</text>
<text x="1333.32" y="772.00" font-size="13.4" textLength="6.88" lengthAdjust="spacingAndGlyphs" stroke="#000" stroke-width="0.6">x</text>
<text x="1392.82" y="772.00" font-size="13.4" textLength="6.88" lengthAdjust="spacingAndGlyphs" stroke="#000" stroke-width="0.6">x</text>
<text x="1452.32" y="772.00" font-size="13.4" textLength="6.88" lengthAdjust="spacingAndGlyphs" stroke="#000" stroke-width="0.6">x</text>
<text x="1519.07" y="772.00" font-size="13.4" textLength="6.88" lengthAdjust="spacingAndGlyphs" stroke="#000" stroke-width="0.6">x</text>
<text x="1584.57" y="772.00" font-size="13.4" textLength="6.88" lengthAdjust="spacingAndGlyphs" stroke="#000" stroke-width="0.6">x</text>
<text x="1642.82" y="772.00" font-size="13.4" textLength="6.88" lengthAdjust="spacingAndGlyphs" stroke="#000" stroke-width="0.6">x</text>
<text x="1035.82" y="822.10" font-size="13.4" textLength="6.88" lengthAdjust="spacingAndGlyphs" stroke="#000" stroke-width="0.6">x</text>
<text x="1095.32" y="822.10" font-size="13.4" textLength="6.88" lengthAdjust="spacingAndGlyphs" stroke="#000" stroke-width="0.6">x</text>
<text x="1154.82" y="822.10" font-size="13.4" textLength="6.88" lengthAdjust="spacingAndGlyphs" stroke="#000" stroke-width="0.6">x</text>
<text x="1214.32" y="822.10" font-size="13.4" textLength="6.88" lengthAdjust="spacingAndGlyphs" stroke="#000" stroke-width="0.6">x</text>
<text x="1273.82" y="822.10" font-size="13.4" textLength="6.88" lengthAdjust="spacingAndGlyphs" stroke="#000" stroke-width="0.6">x</text>
<text x="1333.32" y="822.10" font-size="13.4" textLength="6.88" lengthAdjust="spacingAndGlyphs" stroke="#000" stroke-width="0.6">x</text>
<text x="1392.82" y="822.10" font-size="13.4" textLength="6.88" lengthAdjust="spacingAndGlyphs" stroke="#000" stroke-width="0.6">x</text>
<text x="1452.32" y="822.10" font-size="13.4" textLength="6.88" lengthAdjust="spacingAndGlyphs" stroke="#000" stroke-width="0.6">x</text>
<text x="1519.07" y="822.10" font-size="13.4" textLength="6.88" lengthAdjust="spacingAndGlyphs" stroke="#000" stroke-width="0.6">x</text>
<text x="1584.57" y="822.10" font-size="13.4" textLength="6.88" lengthAdjust="spacingAndGlyphs" stroke="#000" stroke-width="0.6">x</text>
<text x="1642.82" y="822.10" font-size="13.4" textLength="6.88" lengthAdjust="spacingAndGlyphs" stroke="#000" stroke-width="0.6">x</text>
<text x="1702.32" y="822.10" font-size="13.4" textLength="6.88" lengthAdjust="spacingAndGlyphs" stroke="#000" stroke-width="0.6">x</text>
<text x="1761.82" y="822.10" font-size="13.4" textLength="6.88" lengthAdjust="spacingAndGlyphs" stroke="#000" stroke-width="0.6">x</text>
<text x="1821.32" y="822.10" font-size="13.4" textLength="6.88" lengthAdjust="spacingAndGlyphs" stroke="#000" stroke-width="0.6">x</text>
<text x="1880.52" y="822.10" font-size="13.4" textLength="6.88" lengthAdjust="spacingAndGlyphs" stroke="#000" stroke-width="0.6">x</text>
<text x="1273.82" y="888.80" font-size="13.4" textLength="6.88" lengthAdjust="spacingAndGlyphs" stroke="#000" stroke-width="0.6">x</text>
<text x="1333.32" y="888.80" font-size="13.4" textLength="6.88" lengthAdjust="spacingAndGlyphs" stroke="#000" stroke-width="0.6">x</text>
<text x="1392.82" y="888.80" font-size="13.4" textLength="6.88" lengthAdjust="spacingAndGlyphs" stroke="#000" stroke-width="0.6">x</text>
<text x="1452.32" y="888.80" font-size="13.4" textLength="6.88" lengthAdjust="spacingAndGlyphs" stroke="#000" stroke-width="0.6">x</text>
<text x="1519.07" y="888.80" font-size="13.4" textLength="6.88" lengthAdjust="spacingAndGlyphs" stroke="#000" stroke-width="0.6">x</text>
<text x="1584.57" y="888.80" font-size="13.4" textLength="6.88" lengthAdjust="spacingAndGlyphs" stroke="#000" stroke-width="0.6">x</text>
<text x="1642.82" y="888.80" font-size="13.4" textLength="6.88" lengthAdjust="spacingAndGlyphs" stroke="#000" stroke-width="0.6">x</text>
<text x="677.74" y="939.65" font-size="19.6" textLength="8.82" lengthAdjust="spacingAndGlyphs">x</text>
<text x="678.72" y="972.60" font-size="13.4" textLength="6.88" lengthAdjust="spacingAndGlyphs" stroke="#000" stroke-width="0.6">x</text>
<text x="1821.32" y="1022.70" font-size="13.4" textLength="6.88" lengthAdjust="spacingAndGlyphs" stroke="#000" stroke-width="0.6">x</text>
<text x="1880.52" y="1022.70" font-size="13.4" textLength="6.88" lengthAdjust="spacingAndGlyphs" stroke="#000" stroke-width="0.6">x</text>
</g>
<text id="foot" class="i" y="1332.50"><tspan x="130.98" font-size="18" textLength="71.86" lengthAdjust="spacingAndGlyphs" id="fa">Extrait du</tspan> <tspan x="207.54" font-size="18" textLength="355.60" lengthAdjust="spacingAndGlyphs" id="fb" class="b">Guide des recherches sur l’histoire des familles</tspan><tspan x="563.20" font-size="18" textLength="199.71" lengthAdjust="spacingAndGlyphs" id="fc">, Archives nationales, 1981</tspan></text>
</svg>
</body>
</html>
